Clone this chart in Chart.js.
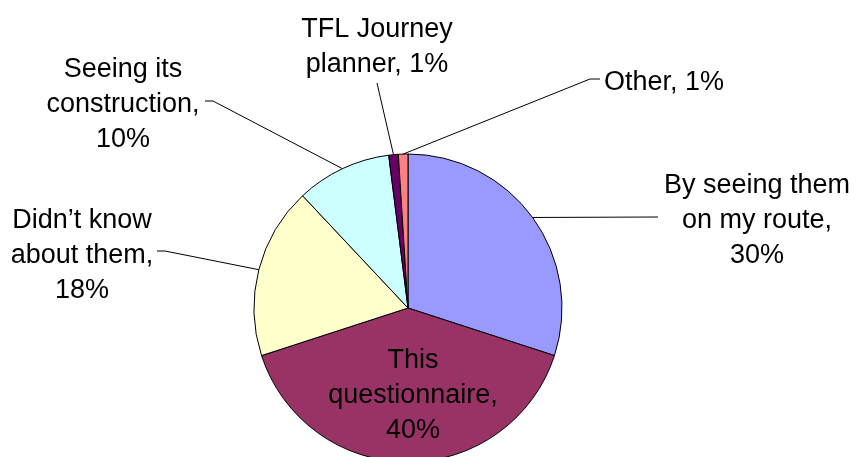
<!DOCTYPE html>
<html>
<head>
<meta charset="utf-8">
<script src="https://cdn.jsdelivr.net/npm/chart.js@4"></script>
<style>
  html, body { margin: 0; padding: 0; background: #fff; overflow: hidden; }
  #wrap { width: 856px; height: 467px; position: relative; }
</style>
</head>
<body>
<div id="wrap"><canvas id="pie"></canvas></div>
<script>
const categories = ['By seeing them on my route', 'This questionnaire', 'Didn\u2019t know about them', 'Seeing its construction', 'TFL Journey planner', 'Other'];
const values = [30, 40, 18, 10, 1, 1];
const colors = ['#9999FF', '#993366', '#FFFFCC', '#CCFFFF', '#660066', '#FF8080'];

// where each data label sits: text centre x, first baseline, wrap width, leader end + tick
const labelSpots = [
  { x: 757, y: 193, w: 195, end: [658, 217] },
  { x: 413, y: 368, w: 180 },
  { x: 82, y: 228, w: 150, end: [165, 251], tick: [157, 251] },
  { x: 123, y: 77, w: 160, end: [213, 101], tick: [205, 101] },
  { x: 377, y: 37, w: 160, end: [377, 83] },
  { x: 664, y: 90, w: 200, end: [590, 79], tick: [600, 79] }
];

const FONT = '27px "Liberation Sans", Arial, sans-serif';
const LINE_H = 35;

function wrapWords(ctx, text, maxW) {
  const words = text.split(' ');
  const lines = [];
  let cur = '';
  words.forEach(w => {
    const test = cur ? cur + ' ' + w : w;
    if (cur && ctx.measureText(test).width > maxW) {
      lines.push(cur);
      cur = w;
    } else {
      cur = test;
    }
  });
  if (cur) lines.push(cur);
  return lines;
}

const pieLabels = {
  id: 'pieLabels',
  afterDatasetsDraw(chart) {
    const ctx = chart.ctx;
    const arcs = chart.getDatasetMeta(0).data;
    ctx.save();
    ctx.font = FONT;
    ctx.fillStyle = '#000';
    ctx.strokeStyle = '#000';
    ctx.lineWidth = 1;
    ctx.textAlign = 'center';
    ctx.textBaseline = 'alphabetic';
    arcs.forEach((arc, i) => {
      const spot = labelSpots[i];
      if (spot.end) {
        const mid = (arc.startAngle + arc.endAngle) / 2;
        const ax = arc.x + Math.cos(mid) * arc.outerRadius;
        const ay = arc.y + Math.sin(mid) * arc.outerRadius;
        ctx.beginPath();
        ctx.moveTo(ax, ay);
        ctx.lineTo(spot.end[0], spot.end[1]);
        if (spot.tick) ctx.lineTo(spot.tick[0], spot.tick[1]);
        ctx.stroke();
      }
      const text = categories[i] + ', ' + values[i] + '%';
      const lines = wrapWords(ctx, text, spot.w);
      lines.forEach((ln, k) => {
        ctx.fillText(ln, spot.x, spot.y + k * LINE_H);
      });
    });
    ctx.restore();
  }
};

const pie = document.getElementById('pie');

new Chart(pie, {
  type: 'pie',
  data: {
    labels: categories,
    datasets: [{
      data: values,
      backgroundColor: colors,
      borderColor: '#000',
      borderWidth: 1,
      hoverOffset: 0,
      offset: 0
    }]
  },
  options: {
    responsive: true,
    maintainAspectRatio: false,
    animation: false,
    radius: 154,
    layout: {
      padding: { left: 254, right: 294, top: 154, bottom: 5 }
    },
    plugins: {
      legend: { display: false },
      tooltip: { enabled: false }
    },
    events: []
  },
  plugins: [pieLabels]
});
</script>
</body>
</html>
